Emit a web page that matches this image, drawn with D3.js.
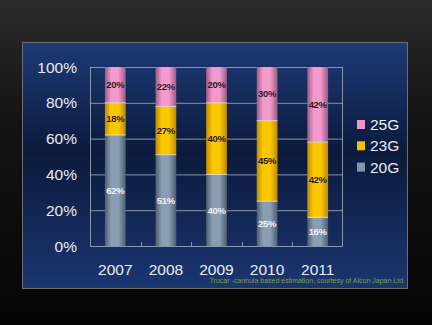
<!DOCTYPE html>
<html>
<head>
<meta charset="utf-8">
<script src="https://cdn.jsdelivr.net/npm/d3@7"></script>
<style>
  html, body { margin: 0; padding: 0; background: #000; }
  svg { display: block; }
</style>
</head>
<body>
<script>
// Gauge share per year (percent of trocar-cannula systems)
const years = ["2007", "2008", "2009", "2010", "2011"];
const series = ["20G", "23G", "25G"];
const g20 = [62, 51, 40, 25, 16];
const g23 = [18, 27, 40, 45, 42];
const g25 = [20, 22, 20, 30, 42];
const yTicks = [0, 20, 40, 60, 80, 100];
const caption = "Trocar -cannula based estimation, courtesy of Alcon Japan Ltd.";

const W = 432, H = 325;
const svg = d3.select("body").append("svg").attr("width", W).attr("height", H);
const defs = svg.append("defs");

// Page background: dark grey fading to black
const bg = defs.append("linearGradient").attr("id", "bg").attr("x1", 0).attr("y1", 0).attr("x2", 0).attr("y2", 1);
bg.append("stop").attr("offset", "0%").attr("stop-color", "#2b2b2b");
bg.append("stop").attr("offset", "35%").attr("stop-color", "#141414");
bg.append("stop").attr("offset", "100%").attr("stop-color", "#050505");
svg.append("rect").attr("width", W).attr("height", H).attr("fill", "url(#bg)");

// Blue panel gradient
const pg = defs.append("linearGradient").attr("id", "panel").attr("x1", 0).attr("y1", 0).attr("x2", 0).attr("y2", 1);
pg.append("stop").attr("offset", "0%").attr("stop-color", "#1d3a76");
pg.append("stop").attr("offset", "45%").attr("stop-color", "#0b1a3c");
pg.append("stop").attr("offset", "100%").attr("stop-color", "#1b3670");
svg.append("rect").attr("x", 22.5).attr("y", 42.5).attr("width", 385).attr("height", 246)
  .attr("fill", "url(#panel)").attr("stroke", "#6f6f6f").attr("stroke-width", 1);

// Cylinder-like horizontal gradients for each series
const colors = {
  "20G": ["#4d5d70", "#8a9db2", "#4d5d70"],
  "23G": ["#c08a00", "#fbc800", "#c08a00"],
  "25G": ["#9c5a86", "#f29acb", "#9c5a86"]
};
series.forEach(s => {
  const g = defs.append("linearGradient").attr("id", "grad" + s).attr("x1", 0).attr("y1", 0).attr("x2", 1).attr("y2", 0);
  g.append("stop").attr("offset", "0%").attr("stop-color", colors[s][0]);
  g.append("stop").attr("offset", "30%").attr("stop-color", colors[s][1]);
  g.append("stop").attr("offset", "65%").attr("stop-color", colors[s][1]);
  g.append("stop").attr("offset", "100%").attr("stop-color", colors[s][2]);
});
const swatch = { "20G": "#8496aa", "23G": "#f5c000", "25G": "#ef94c6" };

const x = d3.scaleBand().domain(years).range([90, 343]).paddingInner(0.59).paddingOuter(0.295);
const y = d3.scaleLinear().domain([0, 100]).range([246, 67]);

// Gridlines and plot frame
const plot = svg.append("g");
plot.selectAll("line.grid").data(yTicks).join("line")
  .attr("x1", 90).attr("x2", 343)
  .attr("y1", d => y(d) + 0.5).attr("y2", d => y(d) + 0.5)
  .attr("stroke", "#a7b0c4").attr("stroke-width", 0.8);
plot.append("line").attr("x1", 90.5).attr("x2", 90.5).attr("y1", y(100)).attr("y2", y(0)).attr("stroke", "#a7b0c4").attr("stroke-width", 0.8);
plot.append("line").attr("x1", 342.5).attr("x2", 342.5).attr("y1", y(100)).attr("y2", y(0)).attr("stroke", "#a7b0c4").attr("stroke-width", 0.8);

// Category tick marks between bars
const step = x.step();
const tickXs = years.slice(1).map(yr => x(yr) - x.paddingInner() * step / 2);
plot.selectAll("line.tk").data(tickXs).join("line")
  .attr("x1", d => Math.round(d) + 0.5).attr("x2", d => Math.round(d) + 0.5)
  .attr("y1", y(0)).attr("y2", y(0) - 4)
  .attr("stroke", "#a7b0c4").attr("stroke-width", 0.8);

// Stacked data
const rows = years.map((yr, i) => ({ year: yr, "20G": g20[i], "23G": g23[i], "25G": g25[i] }));
const stack = d3.stack().keys(series)(rows);

const bars = svg.append("g");
stack.forEach(layer => {
  const s = layer.key;
  bars.selectAll("rect.s" + s).data(layer).join("rect")
    .attr("x", d => x(d.data.year))
    .attr("width", x.bandwidth())
    .attr("y", d => y(d[1]))
    .attr("height", d => y(d[0]) - y(d[1]))
    .attr("fill", "url(#grad" + s + ")");
});
// Light separators between segments
stack.slice(0, 2).forEach(layer => {
  bars.selectAll("line.sep" + layer.key).data(layer).join("line")
    .attr("x1", d => x(d.data.year)).attr("x2", d => x(d.data.year) + x.bandwidth())
    .attr("y1", d => y(d[1])).attr("y2", d => y(d[1]))
    .attr("stroke", "#f4f0d8").attr("stroke-width", 0.8);
});

// Value labels
stack.forEach(layer => {
  const s = layer.key;
  bars.selectAll("text.v" + s).data(layer).join("text")
    .attr("x", d => x(d.data.year) + x.bandwidth() / 2)
    .attr("y", d => (y(d[0]) + y(d[1])) / 2)
    .attr("dy", "0.35em")
    .attr("text-anchor", "middle")
    .attr("font-family", "Liberation Sans, Arial, sans-serif")
    .attr("font-size", 9.5)
    .attr("font-weight", "bold")
    .attr("letter-spacing", -0.3)
    .attr("fill", s === "20G" ? "#f2f4f8" : "#2a1a24")
    .text(d => (d[1] - d[0]) + "%");
});

// Y axis labels
svg.append("g").selectAll("text").data(yTicks).join("text")
  .attr("x", 77).attr("y", d => y(d)).attr("dy", "0.36em")
  .attr("text-anchor", "end")
  .attr("font-family", "Liberation Sans, Arial, sans-serif")
  .attr("font-size", 15.5)
  .attr("fill", "#e8ecf4")
  .text(d => d + "%");

// X axis labels
svg.append("g").selectAll("text").data(years).join("text")
  .attr("x", d => x(d) + x.bandwidth() / 2).attr("y", 269).attr("dy", "0.36em")
  .attr("text-anchor", "middle")
  .attr("font-family", "Liberation Sans, Arial, sans-serif")
  .attr("font-size", 15.5)
  .attr("fill", "#e8ecf4")
  .text(d => d);

// Legend (top series first)
const legendOrder = series.slice().reverse();
const lg = svg.append("g");
legendOrder.forEach((s, i) => {
  const cy = 124.5 + i * 21.3;
  lg.append("rect").attr("x", 357).attr("y", cy - 4.5).attr("width", 8).attr("height", 9).attr("fill", swatch[s]);
  lg.append("text").attr("x", 370).attr("y", cy).attr("dy", "0.36em")
    .attr("font-family", "Liberation Sans, Arial, sans-serif")
    .attr("font-size", 15.5)
    .attr("fill", "#e8ecf4")
    .text(s);
});

// Source note
svg.append("text").attr("x", 405).attr("y", 281).attr("dy", "0.35em")
  .attr("text-anchor", "end")
  .attr("font-family", "Liberation Sans, Arial, sans-serif")
  .attr("font-size", 7)
  .attr("fill", "#7fa040")
  .text(caption);
</script>
</body>
</html>
